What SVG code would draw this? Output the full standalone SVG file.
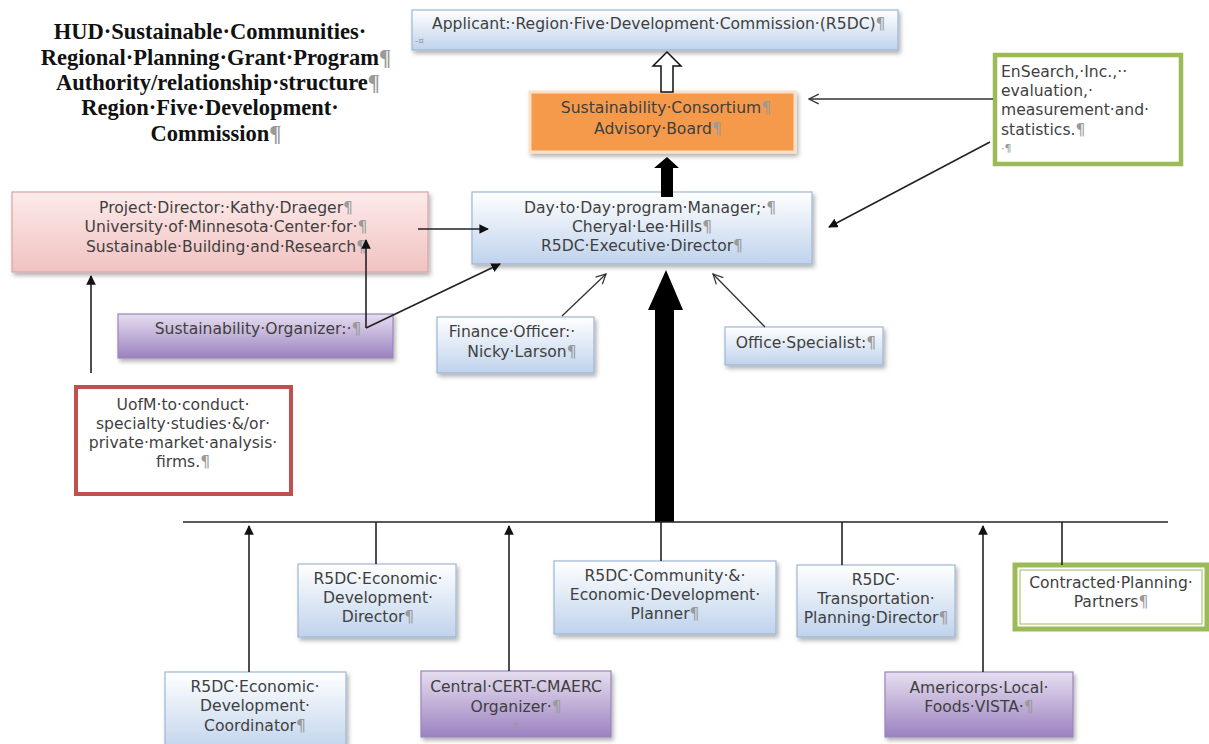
<svg xmlns="http://www.w3.org/2000/svg" width="1209" height="744" viewBox="0 0 1209 744">
<style>
.t{font-family:"DejaVu Sans","Liberation Sans",sans-serif;font-size:15.6px;fill:#3f3f3f;text-anchor:middle}
.l{text-anchor:start}
.h{font-family:"Liberation Serif","Times New Roman",serif;font-size:22.5px;font-weight:bold;fill:#111;text-anchor:middle}
.pm{fill:#9a9a9a}
.blue{fill:url(#gBlue);stroke:#9db6d6;stroke-width:1.2;filter:url(#sh)}
.pink{fill:url(#gPink);stroke:#d9a3a2;stroke-width:1.2;filter:url(#sh)}
.purp{fill:url(#gPurp);stroke:#9a84bc;stroke-width:1.2;filter:url(#sh)}
.line{stroke:#222;stroke-width:1.6;fill:none}
.arr{stroke:#222;stroke-width:1.6;fill:none;marker-end:url(#mFill)}
.open{stroke:#333;stroke-width:1.3;fill:none;marker-end:url(#mOpen)}
</style>
<defs>
<linearGradient id="gBlue" x1="0" y1="0" x2="0" y2="1"><stop offset="0" stop-color="#ffffff"/><stop offset="1" stop-color="#bfd3ec"/></linearGradient>
<linearGradient id="gPink" x1="0" y1="0" x2="0" y2="1"><stop offset="0" stop-color="#fcebea"/><stop offset="1" stop-color="#f0c2c1"/></linearGradient>
<linearGradient id="gPurp" x1="0" y1="0" x2="0" y2="1"><stop offset="0" stop-color="#e6def0"/><stop offset="1" stop-color="#9b82c0"/></linearGradient>
<filter id="sh" x="-10%" y="-20%" width="125%" height="150%"><feDropShadow dx="2" dy="3" stdDeviation="2" flood-color="#000" flood-opacity="0.3"/></filter>
<marker id="mFill" viewBox="0 0 10 10" refX="9" refY="5" markerWidth="6" markerHeight="6" orient="auto" markerUnits="strokeWidth"><path d="M0,0 L10,5 L0,10 z" fill="#111"/></marker>
<marker id="mOpen" viewBox="0 0 12 12" refX="11" refY="6" markerWidth="9" markerHeight="9" orient="auto" markerUnits="strokeWidth"><path d="M1,1 L11,6 L1,11" fill="none" stroke="#333" stroke-width="1.3"/></marker>
</defs>

<g id="title">
<text class="h" x="210" y="39">HUD·Sustainable·Communities·</text>
<text class="h" x="216" y="65">Regional·Planning·Grant·Program<tspan class="pm">¶</tspan></text>
<text class="h" x="218" y="90">Authority/relationship·structure<tspan class="pm">¶</tspan></text>
<text class="h" x="210" y="115">Region·Five·Development·</text>
<text class="h" x="216" y="141">Commission<tspan class="pm">¶</tspan></text>
</g>

<g id="applicant">
<rect class="blue" x="412" y="10" width="486" height="40"/>
<text class="t l" x="432" y="29">Applicant:·Region·Five·Development·Commission·(R5DC)<tspan class="pm">¶</tspan></text>
<text class="t l pm" x="415" y="44" style="font-size:9px">-¤</text>
</g>

<g id="consortium">
<rect x="530" y="92" width="265" height="60" fill="#f59a4c" stroke="#fbe0c8" stroke-width="3" filter="url(#sh)"/>
<text class="t" x="666" y="113">Sustainability·Consortium<tspan class="pm">¶</tspan></text>
<text class="t" x="658" y="134">Advisory·Board<tspan class="pm">¶</tspan></text>
</g>

<g id="ensearch">
<rect x="995" y="55" width="186" height="109" fill="#fff" stroke="#9bbb59" stroke-width="4.5"/>
<text class="t l" x="1001" y="77">EnSearch,·Inc.,··</text>
<text class="t l" x="1001" y="96">evaluation,·</text>
<text class="t l" x="1001" y="115">measurement·and·</text>
<text class="t l" x="1001" y="135">statistics.<tspan class="pm">¶</tspan></text>
<text class="t l pm" x="1001" y="152" style="font-size:11px">·¶</text>
</g>

<g id="project-director">
<rect class="pink" x="12" y="192" width="416" height="80"/>
<text class="t" x="226" y="213">Project·Director:·Kathy·Draeger<tspan class="pm">¶</tspan></text>
<text class="t" x="226" y="232">University·of·Minnesota·Center·for·<tspan class="pm">¶</tspan></text>
<text class="t" x="226" y="252">Sustainable·Building·and·Research<tspan class="pm">¶</tspan></text>
</g>

<g id="day-to-day">
<rect class="blue" x="472" y="192" width="340" height="72"/>
<text class="t" x="650" y="213">Day·to·Day·program·Manager;·<tspan class="pm">¶</tspan></text>
<text class="t" x="642" y="232">Cheryal·Lee·Hills<tspan class="pm">¶</tspan></text>
<text class="t" x="642" y="251">R5DC·Executive·Director<tspan class="pm">¶</tspan></text>
</g>

<g id="organizer">
<rect class="purp" x="118" y="314" width="275" height="44"/>
<text class="t" x="258" y="334">Sustainability·Organizer:·<tspan class="pm">¶</tspan></text>
</g>

<g id="finance">
<rect class="blue" x="437" y="317" width="157" height="56"/>
<text class="t" x="512" y="337">Finance·Officer:·</text>
<text class="t" x="522" y="357">Nicky·Larson<tspan class="pm">¶</tspan></text>
</g>

<g id="office">
<rect class="blue" x="725" y="327" width="158" height="38"/>
<text class="t" x="806" y="348">Office·Specialist:<tspan class="pm">¶</tspan></text>
</g>

<g id="uofm">
<rect x="76" y="387" width="215" height="107" fill="#fff" stroke="#c0504d" stroke-width="4"/>
<text class="t" x="183" y="410">UofM·to·conduct·</text>
<text class="t" x="183" y="429">specialty·studies·&amp;/or·</text>
<text class="t" x="183" y="448">private·market·analysis·</text>
<text class="t" x="183" y="467">firms.<tspan class="pm">¶</tspan></text>
</g>

<g id="econ-dev-director">
<rect class="blue" x="298" y="564" width="158" height="73"/>
<text class="t" x="378" y="584">R5DC·Economic·</text>
<text class="t" x="378" y="603">Development·</text>
<text class="t" x="378" y="622">Director<tspan class="pm">¶</tspan></text>
</g>

<g id="planner">
<rect class="blue" x="554" y="561" width="222" height="73"/>
<text class="t" x="665" y="581">R5DC·Community·&amp;·</text>
<text class="t" x="665" y="600">Economic·Development·</text>
<text class="t" x="665" y="619">Planner<tspan class="pm">¶</tspan></text>
</g>

<g id="transportation">
<rect class="blue" x="797" y="565" width="158" height="72"/>
<text class="t" x="876" y="585">R5DC·</text>
<text class="t" x="876" y="604">Transportation·</text>
<text class="t" x="876" y="623">Planning·Director<tspan class="pm">¶</tspan></text>
</g>

<g id="contracted">
<rect x="1015" y="565" width="192" height="64" fill="#fff" stroke="#9bbb59" stroke-width="5"/>
<rect x="1020" y="570" width="182" height="54" fill="none" stroke="#9bbb59" stroke-width="1"/>
<text class="t" x="1111" y="588">Contracted·Planning·</text>
<text class="t" x="1111" y="607">Partners<tspan class="pm">¶</tspan></text>
</g>

<g id="econ-dev-coordinator">
<rect class="blue" x="165" y="672" width="181" height="80"/>
<text class="t" x="255" y="692">R5DC·Economic·</text>
<text class="t" x="255" y="711">Development·</text>
<text class="t" x="255" y="731">Coordinator<tspan class="pm">¶</tspan></text>
</g>

<g id="cert-organizer">
<rect class="purp" x="421" y="671" width="190" height="66"/>
<text class="t" x="516" y="692">Central·CERT-CMAERC</text>
<text class="t" x="516" y="712">Organizer·<tspan class="pm">¶</tspan></text>
<text class="t pm" x="516" y="729" style="font-size:10px">¤</text>
</g>

<g id="americorps">
<rect class="purp" x="885" y="672" width="188" height="65"/>
<text class="t" x="979" y="693">Americorps·Local·</text>
<text class="t" x="979" y="712">Foods·VISTA·<tspan class="pm">¶</tspan></text>
</g>

<g id="connectors">
<path d="M661,92 L661,66 L653,66 L667,52 L681,66 L673,66 L673,92 Z" fill="#fff" stroke="#111" stroke-width="1.5"/>
<path d="M661,197 L661,168 L654,168 L667,157 L679,168 L673,168 L673,197 Z" fill="#000"/>
<path d="M655,522 L655,310 L648,310 L666,270 L683,310 L674,310 L674,522 Z" fill="#000"/>
<line class="line" x1="183" y1="522" x2="1168" y2="522"/>
<line class="line" x1="376" y1="522" x2="376" y2="564"/>
<line class="line" x1="661" y1="522" x2="661" y2="561"/>
<line class="line" x1="842" y1="522" x2="842" y2="565"/>
<line class="line" x1="1062" y1="522" x2="1062" y2="565"/>
<line class="arr" x1="249" y1="672" x2="249" y2="526"/>
<line class="arr" x1="509" y1="671" x2="509" y2="526"/>
<line class="arr" x1="983" y1="672" x2="983" y2="526"/>
<line class="arr" x1="418" y1="229" x2="488" y2="229"/>
<line class="arr" x1="366" y1="328" x2="366" y2="240"/>
<line class="arr" x1="366" y1="328" x2="500" y2="264"/>
<line class="arr" x1="91" y1="373" x2="91" y2="276"/>
<line class="open" x1="562" y1="316" x2="606" y2="274"/>
<line class="open" x1="765" y1="327" x2="713" y2="274"/>
<line class="open" x1="993" y1="99" x2="809" y2="99"/>
<line class="arr" x1="990" y1="142" x2="829" y2="227"/>
</g>
</svg>
